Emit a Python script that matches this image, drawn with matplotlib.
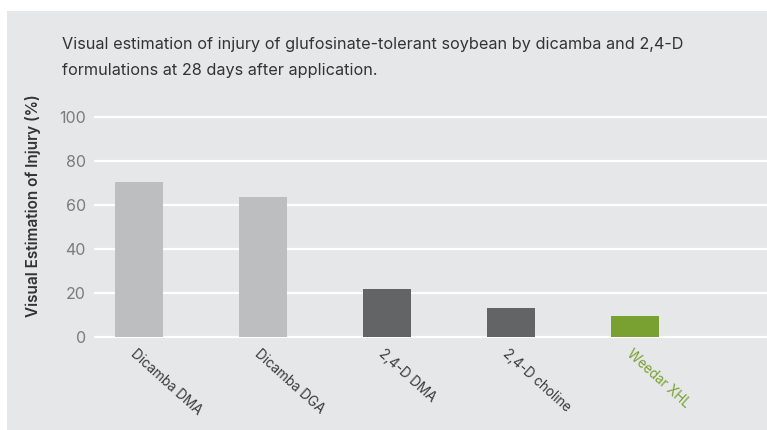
import matplotlib
matplotlib.use("Agg")
import matplotlib.pyplot as plt
import matplotlib.transforms as mtransforms
from matplotlib.patches import Rectangle

# Data
categories = ["Dicamba DMA", "Dicamba DGA", "2,4-D DMA", "2,4-D choline", "Weedar XHL"]
injury = [70.5, 63.8, 21.8, 13.2, 9.5]
bar_colors = ["#bdbec0", "#bdbec0", "#636466", "#636466", "#78a132"]
label_colors = ["#3a3a3c", "#3a3a3c", "#3a3a3c", "#3a3a3c", "#78a132"]
yticks = [0, 20, 40, 60, 80, 100]

plt.rcParams["font.family"] = ["Inter", "DejaVu Sans"]

W, H = 767, 430
fig = plt.figure(figsize=(W / 100, H / 100), dpi=100)
fig.patch.set_facecolor("white")

# grey panel behind everything
fig.patches.append(Rectangle((7 / W, 0), 1 - 7 / W, 419 / H, transform=fig.transFigure,
                             facecolor="#e6e7e9", edgecolor="none", zorder=-10))

# axes placed in pixels: x 94..767, y 112..340
ax = fig.add_axes([94 / W, (H - 340) / H, (W - 94) / W, 228 / H])
ax.set_facecolor("none")

x = list(range(len(categories)))
ax.bar(x, injury, width=0.387, color=bar_colors, zorder=3)

ax.set_xlim(-0.363, 5.065)
ax.set_ylim(-1.36, 102.27)
ax.set_yticks(yticks)
ax.set_yticklabels([str(v) for v in yticks])
ax.grid(axis="y", color="white", linewidth=1.6, zorder=1)
ax.tick_params(axis="y", length=0, pad=6, labelsize=11.5, labelcolor="#7a7b7d")
ax.tick_params(axis="x", length=0, pad=5)
for s in ax.spines.values():
    s.set_visible(False)

ax.set_xticks(x)
ax.set_xticklabels(categories, rotation=-42, ha="left", va="top",
                   rotation_mode="anchor", fontsize=9.7)
shift = mtransforms.ScaledTranslation(-2 / 100, 0, fig.dpi_scale_trans)
for lbl, c in zip(ax.get_xticklabels(), label_colors):
    lbl.set_color(c)
    lbl.set_transform(lbl.get_transform() + shift)

fig.text(62 / W, 1 - 45 / H,
         "Visual estimation of injury of glufosinate-tolerant soybean by dicamba and 2,4-D",
         fontsize=11.7, color="#333333", va="center", ha="left")
fig.text(62 / W, 1 - 71 / H, "formulations at 28 days after application.",
         fontsize=11.7, color="#333333", va="center", ha="left")

fig.text(33 / W, 1 - 206 / H, "Visual Estimation of Injury (%)", rotation=90,
         fontsize=11, fontweight="semibold", color="#333333", va="center", ha="center")

fig.savefig("out.png", dpi=100)
